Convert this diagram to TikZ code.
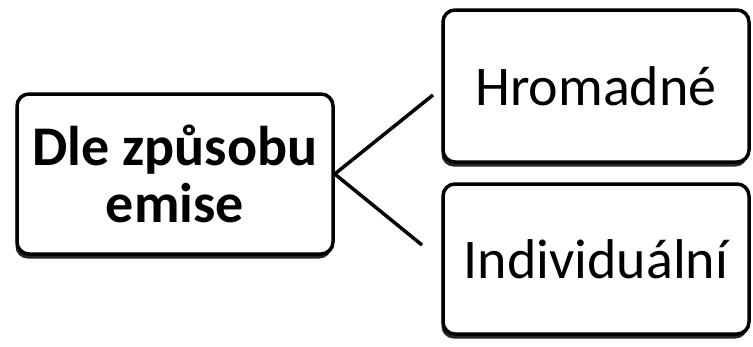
\documentclass[tikz,border=0pt]{standalone}
\usepackage{fontspec}
\setmainfont{Carlito}
\usetikzlibrary{shadows}
\begin{document}
\begin{tikzpicture}[x=1pt,y=-1pt,
  box/.style={draw=black, line width=3.5pt, rounded corners=12pt, fill=white,
    inner sep=0pt, align=center, font=\fontsize{56}{57}\selectfont,
    drop shadow={shadow xshift=-1.5pt, shadow yshift=-4.5pt, fill=black, opacity=0.85}},
  conn/.style={draw=black, line width=3.5pt}]
\useasboundingbox (0,0) rectangle (753,346);
\node[box, minimum width=316pt, minimum height=160pt] (src) at (175,174) {\bfseries Dle způsobu\\\bfseries emise};
\node[box, minimum width=306pt, minimum height=152pt] (hrom) at (596,86) {Hromadné};
\node[box, minimum width=306pt, minimum height=150pt] (ind) at (596,259) {Individuální};
\coordinate (e1) at (433,95);
\coordinate (e2) at (422,245);
\draw[conn] (src.east) -- (e1);
\draw[conn] (src.east) -- (e2);
\end{tikzpicture}
\end{document}
